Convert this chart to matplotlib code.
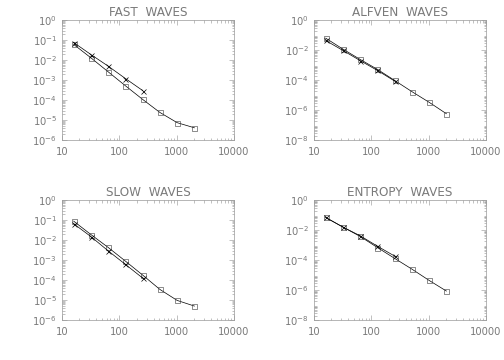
import numpy as np
import matplotlib
matplotlib.use('Agg')
import matplotlib.pyplot as plt
from matplotlib.ticker import LogLocator, FixedLocator, FuncFormatter, NullFormatter

# grid resolutions
n_sq = [16, 32, 64, 128, 256, 512, 1024, 2048]
n_x = [16, 32, 64, 128, 256]

# errors
fast_sq = [0.061, 0.013, 0.0026, 5.2e-4, 1.08e-4, 2.4e-5, 7.4e-6, 4.1e-6]
fast_x = [0.076, 0.019, 0.005, 0.0012, 3.0e-4]
alfven_sq = [0.063, 0.0117, 0.0024, 5.2e-4, 9.5e-5, 1.7e-5, 3.3e-6, 5.7e-7]
alfven_x = [0.044, 0.0095, 0.002, 4.4e-4, 8.6e-5]
slow_sq = [0.089, 0.019, 0.0043, 8.9e-4, 1.78e-4, 3.4e-5, 9.6e-6, 5.0e-6]
slow_x = [0.066, 0.015, 0.0029, 6.1e-4, 1.26e-4]
entropy_sq = [0.07, 0.016, 0.0038, 6.9e-4, 1.3e-4, 2.5e-5, 4.4e-6, 8.6e-7]
entropy_x = [0.07, 0.016, 0.0042, 8.5e-4, 1.85e-4]

titles = ['FAST  WAVES', 'ALFVEN  WAVES', 'SLOW  WAVES', 'ENTROPY  WAVES']
x_ticks = [10, 100, 1000, 10000]
x_ticklabels = ['10', '100', '1000', '10000']
ylims = [(1e-6, 1e0), (1e-8, 1e0), (1e-6, 1e0), (1e-8, 1e0)]
y_steps = [1, 2, 1, 2]

panels = [(fast_sq, fast_x), (alfven_sq, alfven_x),
          (slow_sq, slow_x), (entropy_sq, entropy_x)]

# axes boxes in figure fractions [left, bottom, width, height]
boxes = [[0.123, 0.611, 0.341, 0.333], [0.623, 0.611, 0.341, 0.333],
         [0.123, 0.111, 0.341, 0.333], [0.623, 0.111, 0.341, 0.333]]

txt = '#7a7a7a'
frame = '#999999'

fig = plt.figure(figsize=(7, 5), dpi=72)

for k in range(4):
    ax = fig.add_axes(boxes[k])
    sq, xx = panels[k]
    ax.plot(n_sq, sq, color='k', lw=0.7, marker='s', ms=5,
            mfc='none', mec='#444444', mew=0.6)
    ax.plot(n_x, xx, color='k', lw=0.7, marker='x', ms=5,
            mec='k', mew=0.7)
    ax.set_xscale('log')
    ax.set_yscale('log')
    ax.set_xlim(10, 10000)
    ax.set_ylim(*ylims[k])

    lo = int(np.log10(ylims[k][0]))
    yt = [10.0 ** e for e in range(0, lo - 1, -y_steps[k])]
    ax.yaxis.set_major_locator(FixedLocator(yt))
    ax.yaxis.set_major_formatter(FuncFormatter(
        lambda v, p: r'$10^{%d}$' % int(round(np.log10(v)))))
    ax.yaxis.set_minor_locator(LogLocator(base=10, subs=np.arange(2, 10), numticks=20))
    ax.yaxis.set_minor_formatter(NullFormatter())

    ax.xaxis.set_major_locator(FixedLocator(x_ticks))
    ax.set_xticklabels(x_ticklabels)
    ax.xaxis.set_minor_locator(LogLocator(base=10, subs=np.arange(2, 10), numticks=20))
    ax.xaxis.set_minor_formatter(NullFormatter())

    ax.tick_params(which='both', direction='in', top=True, right=True,
                   color=frame, width=0.6, labelsize=10, labelcolor=txt)
    ax.tick_params(axis='x', pad=7)
    ax.tick_params(axis='y', pad=5)
    ax.tick_params(which='major', length=5)
    ax.tick_params(which='minor', length=2.5)
    for s in ax.spines.values():
        s.set_color(frame)
        s.set_linewidth(0.7)
    ax.set_title(titles[k], fontsize=12, color=txt, pad=4)

plt.savefig('out.png', dpi=72)
